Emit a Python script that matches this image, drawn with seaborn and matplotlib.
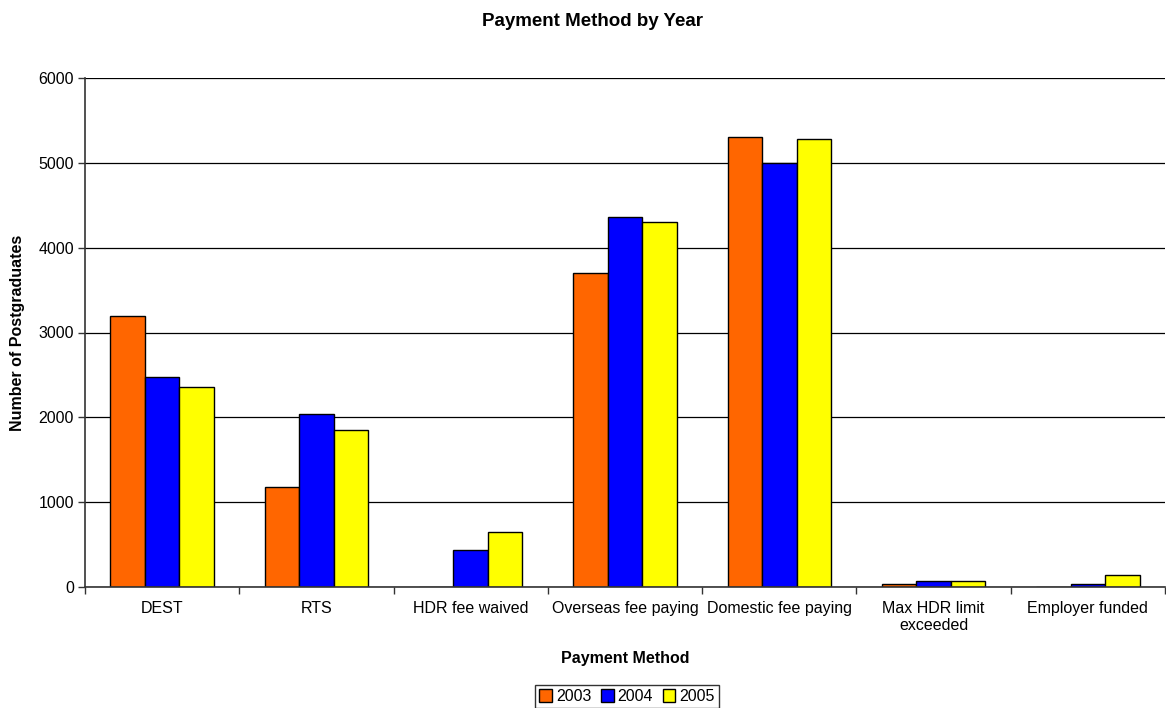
import matplotlib
matplotlib.use("Agg")
import matplotlib.pyplot as plt
import seaborn as sns
import pandas as pd
import numpy as np
from matplotlib.patches import Patch

categories = ["DEST", "RTS", "HDR fee waived", "Overseas fee paying",
              "Domestic fee paying", "Max HDR limit\nexceeded", "Employer funded"]
years = ["2003", "2004", "2005"]
vals_2003 = [3200, 1180, 0, 3700, 5310, 30, 0]
vals_2004 = [2470, 2040, 440, 4360, 5000, 65, 40]
vals_2005 = [2360, 1850, 650, 4300, 5285, 70, 145]
colors = ["#FF6600", "#0000FF", "#FFFF00"]

rows = []
for y, vals in zip(years, [vals_2003, vals_2004, vals_2005]):
    for c, v in zip(categories, vals):
        rows.append({"Payment Method": c, "Year": y, "Count": v})
df = pd.DataFrame(rows)

sns.set_style("white")
plt.rcParams["font.family"] = ["Liberation Sans", "DejaVu Sans"]
plt.rcParams["text.color"] = "black"
plt.rcParams["axes.labelcolor"] = "black"
plt.rcParams["xtick.color"] = "black"
plt.rcParams["ytick.color"] = "black"

fig = plt.figure(figsize=(11.66, 7.08), dpi=100)
ax = fig.add_axes([85/1166, 1 - 587/708, 1080/1166, 509/708])

sns.barplot(data=df, x="Payment Method", y="Count", hue="Year", order=categories,
            hue_order=years, palette=colors, width=0.67, edgecolor="black",
            linewidth=1, errorbar=None, saturation=1, ax=ax, legend=False)

ax.set_xlim(-0.5, len(categories) - 0.5)
ax.set_ylim(0, 6000)
ax.set_yticks(np.arange(0, 6001, 1000))
ax.yaxis.grid(True, color="black", linewidth=0.9)
ax.set_axisbelow(True)
for s in ["top", "right"]:
    ax.spines[s].set_visible(False)
for s in ["left", "bottom"]:
    ax.spines[s].set_color("#333333")
    ax.spines[s].set_linewidth(1.2)

ax.tick_params(axis="y", direction="out", length=5, width=1, color="#333333",
               labelcolor="black", labelsize=11.5, pad=3, left=True)
ax.set_xticks(range(len(categories)))
ax.set_xticklabels(categories, fontsize=11.5, color="black")
ax.tick_params(axis="x", which="major", length=0, pad=10)
ax.set_xticks(np.arange(-0.5, len(categories), 1.0), minor=True)
ax.tick_params(axis="x", which="minor", direction="out", length=5, width=1,
               color="#333333", bottom=True)

ax.set_xlabel("Payment Method", fontsize=11.5, fontweight="bold", color="black")
ax.xaxis.set_label_coords(0.5, (587 - 658) / 509)
ax.xaxis.label.set_va("center")
ax.set_ylabel("Number of Postgraduates", fontsize=11.5, fontweight="bold", color="black")
ax.yaxis.set_label_coords((18 - 85) / 1080, 0.5)
ax.yaxis.label.set_va("center")
fig.text(592/1166, 1 - 21/708, "Payment Method by Year", fontsize=13.5,
         fontweight="bold", ha="center", va="center", color="black")

handles = [Patch(facecolor=c, edgecolor="black", linewidth=1, label=y)
           for c, y in zip(colors, years)]
leg = fig.legend(handles=handles, loc="lower center", bbox_to_anchor=(627/1166, 0.0),
                 ncol=3, frameon=True, fancybox=False, fontsize=11.5,
                 handlelength=0.8, handleheight=0.8, handletextpad=0.25,
                 columnspacing=0.6, borderpad=0.25, borderaxespad=0.0)
leg.get_frame().set_edgecolor("black")
leg.get_frame().set_linewidth(1)
for t in leg.get_texts():
    t.set_color("black")

fig.savefig("out.png", dpi=100)
